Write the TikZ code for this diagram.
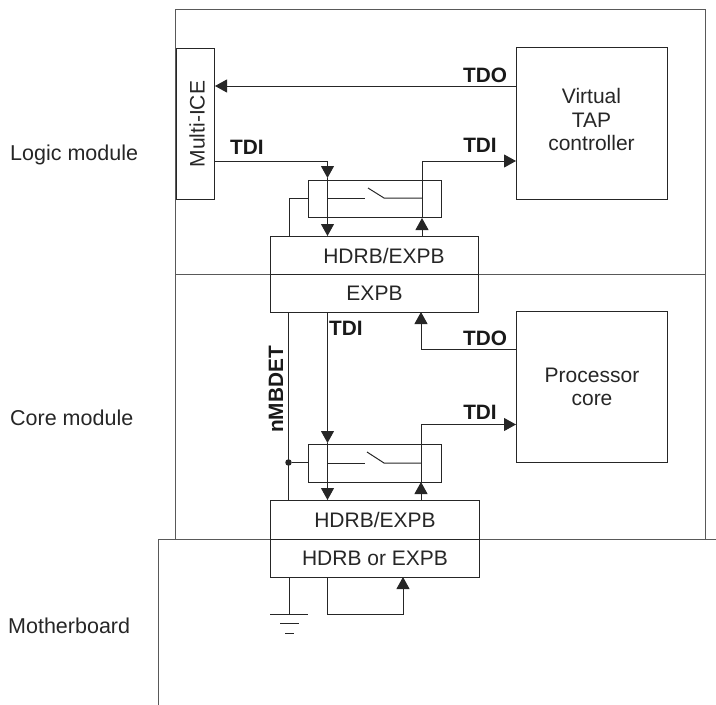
\documentclass[tikz,border=0pt]{standalone}
\usepackage{fontspec}
\setmainfont{Liberation Sans}
\usetikzlibrary{arrows.meta}
\tikzset{
  box/.style={draw=black!85,line width=1pt,inner sep=0pt,anchor=north west,align=center,font=\fontsize{21}{23.6}\selectfont,text=black!85},
  plain/.style={inner sep=0pt,align=center,font=\fontsize{21}{23.6}\selectfont,text=black!85},
  wire/.style={draw=black!85,line width=1pt},
  arr/.style={wire,-{Triangle[length=12pt,width=13pt]}},
  frame/.style={draw=black!65,line width=1pt},
  lab/.style={font=\fontsize{21.5}{25}\selectfont,text=black!85,anchor=west,inner sep=0pt},
  sig/.style={font=\fontsize{20.8}{25}\selectfont\bfseries,text=black!90,inner sep=0pt},
  dot/.style={circle,fill=black!85,inner sep=0pt,minimum size=6.5pt}
}
\newcommand{\boxat}[6]{\node[box,minimum width=#4pt,minimum height=#5pt] (#1) at (#2,#3) {#6};}
\begin{document}
\begin{tikzpicture}[x=1pt,y=-1pt]
\useasboundingbox (0,0) rectangle (716,705);
% frames
\coordinate (ftl) at (175.5,9);
\coordinate (ftr) at (705,9);
\coordinate (fml) at (175.5,274);
\coordinate (fmr) at (705,274);
\coordinate (fbl) at (175.5,539);
\coordinate (fbr) at (705,539);
\coordinate (mbl) at (158,539);
\coordinate (mbr) at (716,539);
\coordinate (mbe) at (158,705);
\draw[frame] (fbl) -- (ftl) -- (ftr) -- (fbr);
\draw[frame] (fml) -- (fmr);
\draw[frame] (mbe) -- (mbl) -- (mbr);
% boxes
\boxat{ice}{176}{48}{38}{151}{\hspace*{3pt}\rotatebox{90}{Multi-ICE}}
\boxat{vtap}{516}{47}{151}{152}{}
\node[plain] (vtapt) at (591.5,119.5) {Virtual\\TAP\\controller};
\boxat{core}{516}{311}{151}{151}{Processor\\core}
\boxat{hu}{270}{236}{208}{38}{\hspace*{19pt}HDRB/EXPB}
\boxat{ex}{270}{274}{208}{38}{EXPB}
\boxat{hl}{270}{500}{209}{39}{HDRB/EXPB}
\boxat{hm}{270}{539}{209}{38}{\raisebox{-4pt}{HDRB or EXPB}}
\boxat{swu}{308}{180}{133}{37}{}
\boxat{swl}{308}{444}{133}{38}{}
% side labels
\node[lab] (l1) at (10,155) {Logic module};
\node[lab] (l2) at (10,418) {Core module};
\node[lab] (l3) at (8,626) {Motherboard};
% upper wiring
\coordinate (tdo1) at (vtap.west |- 0,86);
\draw[arr] (tdo1) -- (tdo1 -| ice.east);
\coordinate (a1) at (ice.east |- 0,161);
\coordinate (a2) at (327.5,161);
\coordinate (a3) at (327.5,178);
\draw[wire] (a1) -- (a2);
\draw[arr] (a2) -- (a3);
\coordinate (a4) at (327.5,236);
\draw[arr] (a3) -- (a4);
\coordinate (b1) at (422,236);
\coordinate (b2) at (422,218);
\coordinate (b3) at (422,161);
\coordinate (b4) at (vtap.west |- 0,161);
\draw[arr] (b1) -- (b2);
\draw[arr] (b2) -- (b3) -- (b4);
\coordinate (c1) at (289,236);
\coordinate (c2) at (289,198);
\coordinate (c3) at (308,198);
\draw[wire] (c1) -- (c2) -- (c3);
\coordinate (s1) at (327.5,198);
\coordinate (s2) at (365,198);
\coordinate (s3) at (368,188);
\coordinate (s4) at (384,198);
\coordinate (s5) at (422,198);
\draw[wire] (s1) -- (s2);
\draw[wire] (s3) -- (s4) -- (s5);
% middle wiring
\coordinate (d1) at (327.5,312);
\coordinate (d2) at (327.5,443);
\coordinate (d3) at (327.5,500);
\draw[arr] (d1) -- (d2);
\draw[arr] (d2) -- (d3);
\coordinate (e1) at (core.west |- 0,349);
\coordinate (e2) at (421,349);
\coordinate (e3) at (421,312);
\draw[arr] (e1) -- (e2) -- (e3);
\coordinate (f1) at (421,500);
\coordinate (f2) at (421,482);
\coordinate (f3) at (421,424.5);
\coordinate (f4) at (core.west |- 0,424.5);
\draw[arr] (f1) -- (f2);
\draw[arr] (f2) -- (f3) -- (f4);
\coordinate (g1) at (288.5,312);
\coordinate (g2) at (288.5,500);
\draw[wire] (g1) -- (g2);
\node[dot] (j) at (288.5,462.5) {};
\coordinate (g3) at (308,462.5);
\draw[wire] (j) -- (g3);
\coordinate (t1) at (327.5,463);
\coordinate (t2) at (365,463);
\coordinate (t3) at (367,452);
\coordinate (t4) at (384,463);
\coordinate (t5) at (421,463);
\draw[wire] (t1) -- (t2);
\draw[wire] (t3) -- (t4) -- (t5);
% bottom
\coordinate (h1) at (289,577);
\coordinate (h2) at (289,614);
\draw[wire] (h1) -- (h2);
\coordinate (k1) at (270,614);
\coordinate (k2) at (308,614);
\coordinate (k3) at (280,623.5);
\coordinate (k4) at (299,623.5);
\coordinate (k5) at (285,633);
\coordinate (k6) at (294,633);
\draw[wire] (k1) -- (k2);
\draw[wire] (k3) -- (k4);
\draw[wire] (k5) -- (k6);
\coordinate (m1) at (327.5,577);
\coordinate (m2) at (327.5,614);
\coordinate (m3) at (403,614);
\coordinate (m4) at (403,577);
\draw[arr] (m1) -- (m2) -- (m3) -- (m4);
% signal labels
\node[sig] (n1) at (485,75) {TDO};
\node[sig] (n2) at (480,145) {TDI};
\node[sig] (n3) at (247,147) {TDI};
\node[sig] (n4) at (346,328) {TDI};
\node[sig] (n5) at (485,338) {TDO};
\node[sig] (n6) at (480,412) {TDI};
\node[sig,rotate=90] (n7) at (276,389.5) {nMBDET};
\end{tikzpicture}
\end{document}
